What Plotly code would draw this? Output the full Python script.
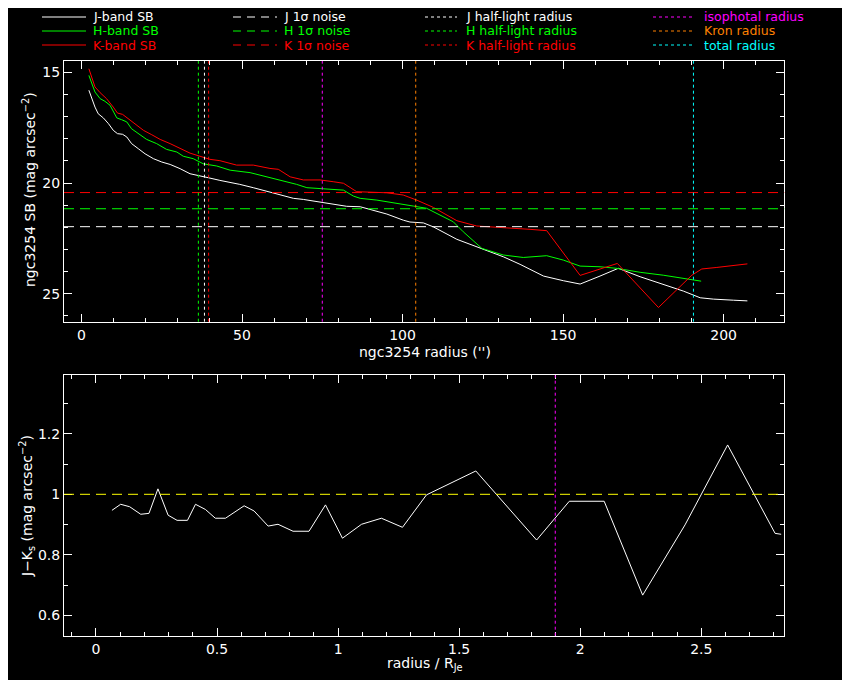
import plotly.graph_objects as go

# surface brightness profiles of ngc3254 (radius in arcsec, SB in mag/arcsec^2)
j_r = [2.3, 3.2, 4.2, 5.2, 6.8, 8.4, 9.9, 11.2, 12.8, 14.1, 15.6, 17.7, 19.8, 22.4, 25.0,
       27.6, 30.7, 33.8, 36.4, 39.5, 43.1, 46.3, 49.3, 53.5, 57.7, 61.8, 66.0, 69.1, 72.2,
       75.3, 79.5, 82.6, 86.8, 89.9, 95.1, 100.3, 102.3, 106.5, 109.6, 116.9, 124.1, 131.4,
       136.6, 143.9, 150.1, 155.3, 161.5, 167.2, 174.0, 181.2, 187.5, 192.7, 196.8, 203.1, 207.4]
j_sb = [15.81, 16.19, 16.57, 16.87, 17.06, 17.32, 17.62, 17.77, 17.80, 17.92, 18.22, 18.45,
        18.68, 18.90, 19.05, 19.16, 19.35, 19.58, 19.65, 19.76, 19.88, 19.97, 20.06, 20.21,
        20.36, 20.54, 20.69, 20.74, 20.81, 20.89, 21.01, 21.05, 21.07, 21.19, 21.40, 21.68,
        21.76, 21.80, 21.98, 22.54, 22.92, 23.33, 23.67, 24.20, 24.41, 24.56, 24.20, 23.85,
        24.23, 24.56, 24.88, 25.18, 25.24, 25.29, 25.32]

h_r = [2.3, 3.2, 4.2, 5.8, 7.3, 8.9, 11.0, 12.5, 14.1, 15.6, 17.7, 20.3, 23.4, 26.5, 29.7,
       31.7, 34.8, 37.9, 42.1, 46.3, 52.5, 56.6, 61.8, 67.0, 70.2, 73.3, 78.4, 81.6, 84.7,
       86.8, 92.0, 98.2, 103.4, 107.5, 111.7, 115.8, 118.9, 124.7, 131.4, 137.6, 144.9,
       150.1, 155.3, 161.5, 166.7, 174.0, 181.2, 187.5, 193.0]
h_sb = [15.14, 15.51, 15.89, 16.19, 16.31, 16.49, 17.06, 17.14, 17.24, 17.55, 17.77, 18.03,
        18.22, 18.48, 18.60, 18.79, 18.90, 19.13, 19.23, 19.42, 19.53, 19.68, 19.86, 20.06,
        20.21, 20.24, 20.28, 20.32, 20.59, 20.69, 20.77, 20.90, 21.04, 21.14, 21.45, 21.75,
        22.20, 22.95, 23.25, 23.36, 23.28, 23.48, 23.75, 23.78, 23.85, 24.03, 24.16, 24.31, 24.43]

k_r = [2.3, 3.2, 4.2, 5.8, 7.8, 9.9, 11.2, 12.8, 14.6, 16.7, 19.3, 21.9, 24.5, 27.6, 30.7,
       33.8, 36.9, 40.0, 43.1, 48.3, 53.5, 58.7, 61.3, 65.0, 69.1, 74.3, 78.4, 81.6, 85.7,
       89.9, 95.1, 100.2, 104.4, 109.6, 116.9, 123.1, 131.4, 139.7, 144.9, 155.3, 166.9,
       179.7, 190.1, 193.2, 197.9, 202.0, 207.4]
k_sb = [14.84, 15.21, 15.66, 15.92, 16.19, 16.57, 16.84, 16.90, 17.10, 17.37, 17.62, 17.82,
        18.03, 18.22, 18.42, 18.65, 18.79, 18.93, 18.99, 19.19, 19.19, 19.34, 19.38, 19.72,
        19.86, 19.86, 19.94, 20.01, 20.39, 20.42, 20.44, 20.54, 20.77, 21.10, 21.70, 21.94,
        22.00, 22.09, 22.15, 24.17, 23.63, 25.62, 24.16, 23.88, 23.81, 23.73, 23.65]

# 1-sigma noise levels (J, H, K)
noise_sb = [21.97, 21.16, 20.43]
# half-light radii (J, H, K), and other radii
half_light = [38.3, 36.4, 39.6]
iso_radius = 75.0
kron_radius = 104.1
total_radius = 190.6

# J-Ks colour profile vs radius / R_Je
col_r = [0.066, 0.102, 0.139, 0.185, 0.219, 0.256, 0.298, 0.335, 0.378, 0.411, 0.452,
         0.493, 0.535, 0.612, 0.653, 0.711, 0.752, 0.814, 0.880, 0.948, 1.018, 1.097,
         1.179, 1.266, 1.365, 1.569, 1.820, 1.955, 2.099, 2.258, 2.433, 2.609, 2.805, 2.83]
col_jk = [0.947, 0.967, 0.959, 0.934, 0.937, 1.018, 0.931, 0.914, 0.914, 0.967, 0.950,
          0.921, 0.921, 0.962, 0.945, 0.895, 0.901, 0.878, 0.878, 0.965, 0.855, 0.901,
          0.921, 0.891, 0.998, 1.077, 0.849, 0.977, 0.977, 0.667, 0.899, 1.163, 0.871, 0.868]
col_ref = 1.0
col_mark = 1.897

WHITE, GREEN, RED = "#ffffff", "#00ff00", "#ff0000"
MAGENTA, ORANGE, CYAN, YELLOW = "#ff00ff", "#ff8000", "#00ffff", "#ffff00"
FONT = "DejaVu Sans"
OFF = 8  # page body margin, figure is drawn 8px in from the window corner
W, H = 850 - OFF, 680 - OFF

fig = go.Figure()
for r, sb, c in [(j_r, j_sb, WHITE), (h_r, h_sb, GREEN), (k_r, k_sb, RED)]:
    fig.add_trace(go.Scatter(x=r, y=sb, mode="lines", line=dict(color=c, width=1),
                             xaxis="x", yaxis="y", showlegend=False))
fig.add_trace(go.Scatter(x=col_r, y=col_jk, mode="lines", line=dict(color=WHITE, width=1),
                         xaxis="x2", yaxis="y2", showlegend=False))

shapes = []
for lvl, c in zip(noise_sb, [WHITE, GREEN, RED]):
    shapes.append(dict(type="line", xref="x domain", yref="y", x0=0, x1=1, y0=lvl, y1=lvl,
                       line=dict(color=c, width=1, dash="10px,6px")))
vlines = list(zip(half_light, [WHITE, GREEN, RED])) + [(iso_radius, MAGENTA),
                                                         (kron_radius, ORANGE),
                                                         (total_radius, CYAN)]
for xv, c in vlines:
    shapes.append(dict(type="line", xref="x", yref="y domain", x0=xv, x1=xv, y0=0, y1=1,
                       line=dict(color=c, width=1, dash="dot")))
shapes.append(dict(type="line", xref="x2 domain", yref="y2", x0=0, x1=1, y0=col_ref, y1=col_ref,
                   line=dict(color=YELLOW, width=1, dash="10px,6px")))
shapes.append(dict(type="line", xref="x2", yref="y2 domain", x0=col_mark, x1=col_mark, y0=0, y1=1,
                   line=dict(color=MAGENTA, width=1, dash="dot")))


# window pixel -> paper coords
def px(x):
    return (x - OFF) / W


def py(y):
    return 1 - (y - OFF) / H


legend_cols = [
    (42, 86, 92, "solid", [("J-band SB", WHITE), ("H-band SB", GREEN), ("K-band SB", RED)]),
    (233, 277, 283, "8px,6px", [("J 1σ noise", WHITE), ("H 1σ noise", GREEN), ("K 1σ noise", RED)]),
    (425, 457, 465, "dot", [("J half-light radius", WHITE), ("H half-light radius", GREEN),
                            ("K half-light radius", RED)]),
    (653, 693, 703, "dot", [("isophotal radius", MAGENTA), ("Kron radius", ORANGE),
                            ("total radius", CYAN)]),
]
row_y = [17, 31, 45]
annotations = []
for x0, x1, xt, dash, items in legend_cols:
    for (label, c), yy in zip(items, row_y):
        shapes.append(dict(type="line", xref="paper", yref="paper", x0=px(x0), x1=px(x1),
                           y0=py(yy), y1=py(yy), line=dict(color=c, width=1, dash=dash)))
        annotations.append(dict(x=px(xt), y=py(yy), xref="paper", yref="paper", text=label,
                                showarrow=False, xanchor="left", yanchor="middle", borderpad=0,
                                font=dict(color=c, size=12.5, family=FONT)))

titles = [
    (425, 352, 0, "ngc3254 radius ('')"),
    (29, 190, -90, "ngc3254 SB (mag arcsec<sup>−2</sup>)"),
    (425, 664, 0, "radius / R<sub>Je</sub>"),
    (27, 506, -90, "J−K<sub>s</sub> (mag arcsec<sup>−2</sup>)"),
]
for x, y, ang, t in titles:
    annotations.append(dict(x=px(x), y=py(y), xref="paper", yref="paper", text=t, textangle=ang,
                            showarrow=False, xanchor="center", yanchor="middle",
                            font=dict(color=WHITE, size=14, family=FONT)))

axis_style = dict(showgrid=False, zeroline=False, showline=True, linecolor=WHITE, linewidth=1,
                  mirror="allticks", ticks="inside", ticklen=8, tickcolor=WHITE, tickwidth=1,
                  tickfont=dict(color=WHITE, size=14, family=FONT), automargin=False)

fig.update_layout(
    width=W, height=H,
    paper_bgcolor="black", plot_bgcolor="black",
    margin=dict(l=0, r=0, t=0, b=0),
    xaxis=dict(domain=[px(64), px(784.3)], anchor="y", range=[-5.45, 218.9], dtick=50,
               minor=dict(dtick=10, ticks="inside", ticklen=4, tickcolor=WHITE), **axis_style),
    yaxis=dict(domain=[py(321.7), py(61)], anchor="x", range=[26.26, 14.49], dtick=5,
               minor=dict(dtick=1, ticks="inside", ticklen=4, tickcolor=WHITE), **axis_style),
    xaxis2=dict(domain=[px(64), px(784.3)], anchor="y2", range=[-0.132, 2.843], dtick=0.5,
                minor=dict(dtick=0.1, ticks="inside", ticklen=4, tickcolor=WHITE), **axis_style),
    yaxis2=dict(domain=[py(635.7), py(375.3)], anchor="x2", range=[0.533, 1.393], dtick=0.2,
                minor=dict(dtick=0.1, ticks="inside", ticklen=4, tickcolor=WHITE), **axis_style),
    shapes=shapes,
    annotations=annotations,
)

fig.write_html("out.html")
